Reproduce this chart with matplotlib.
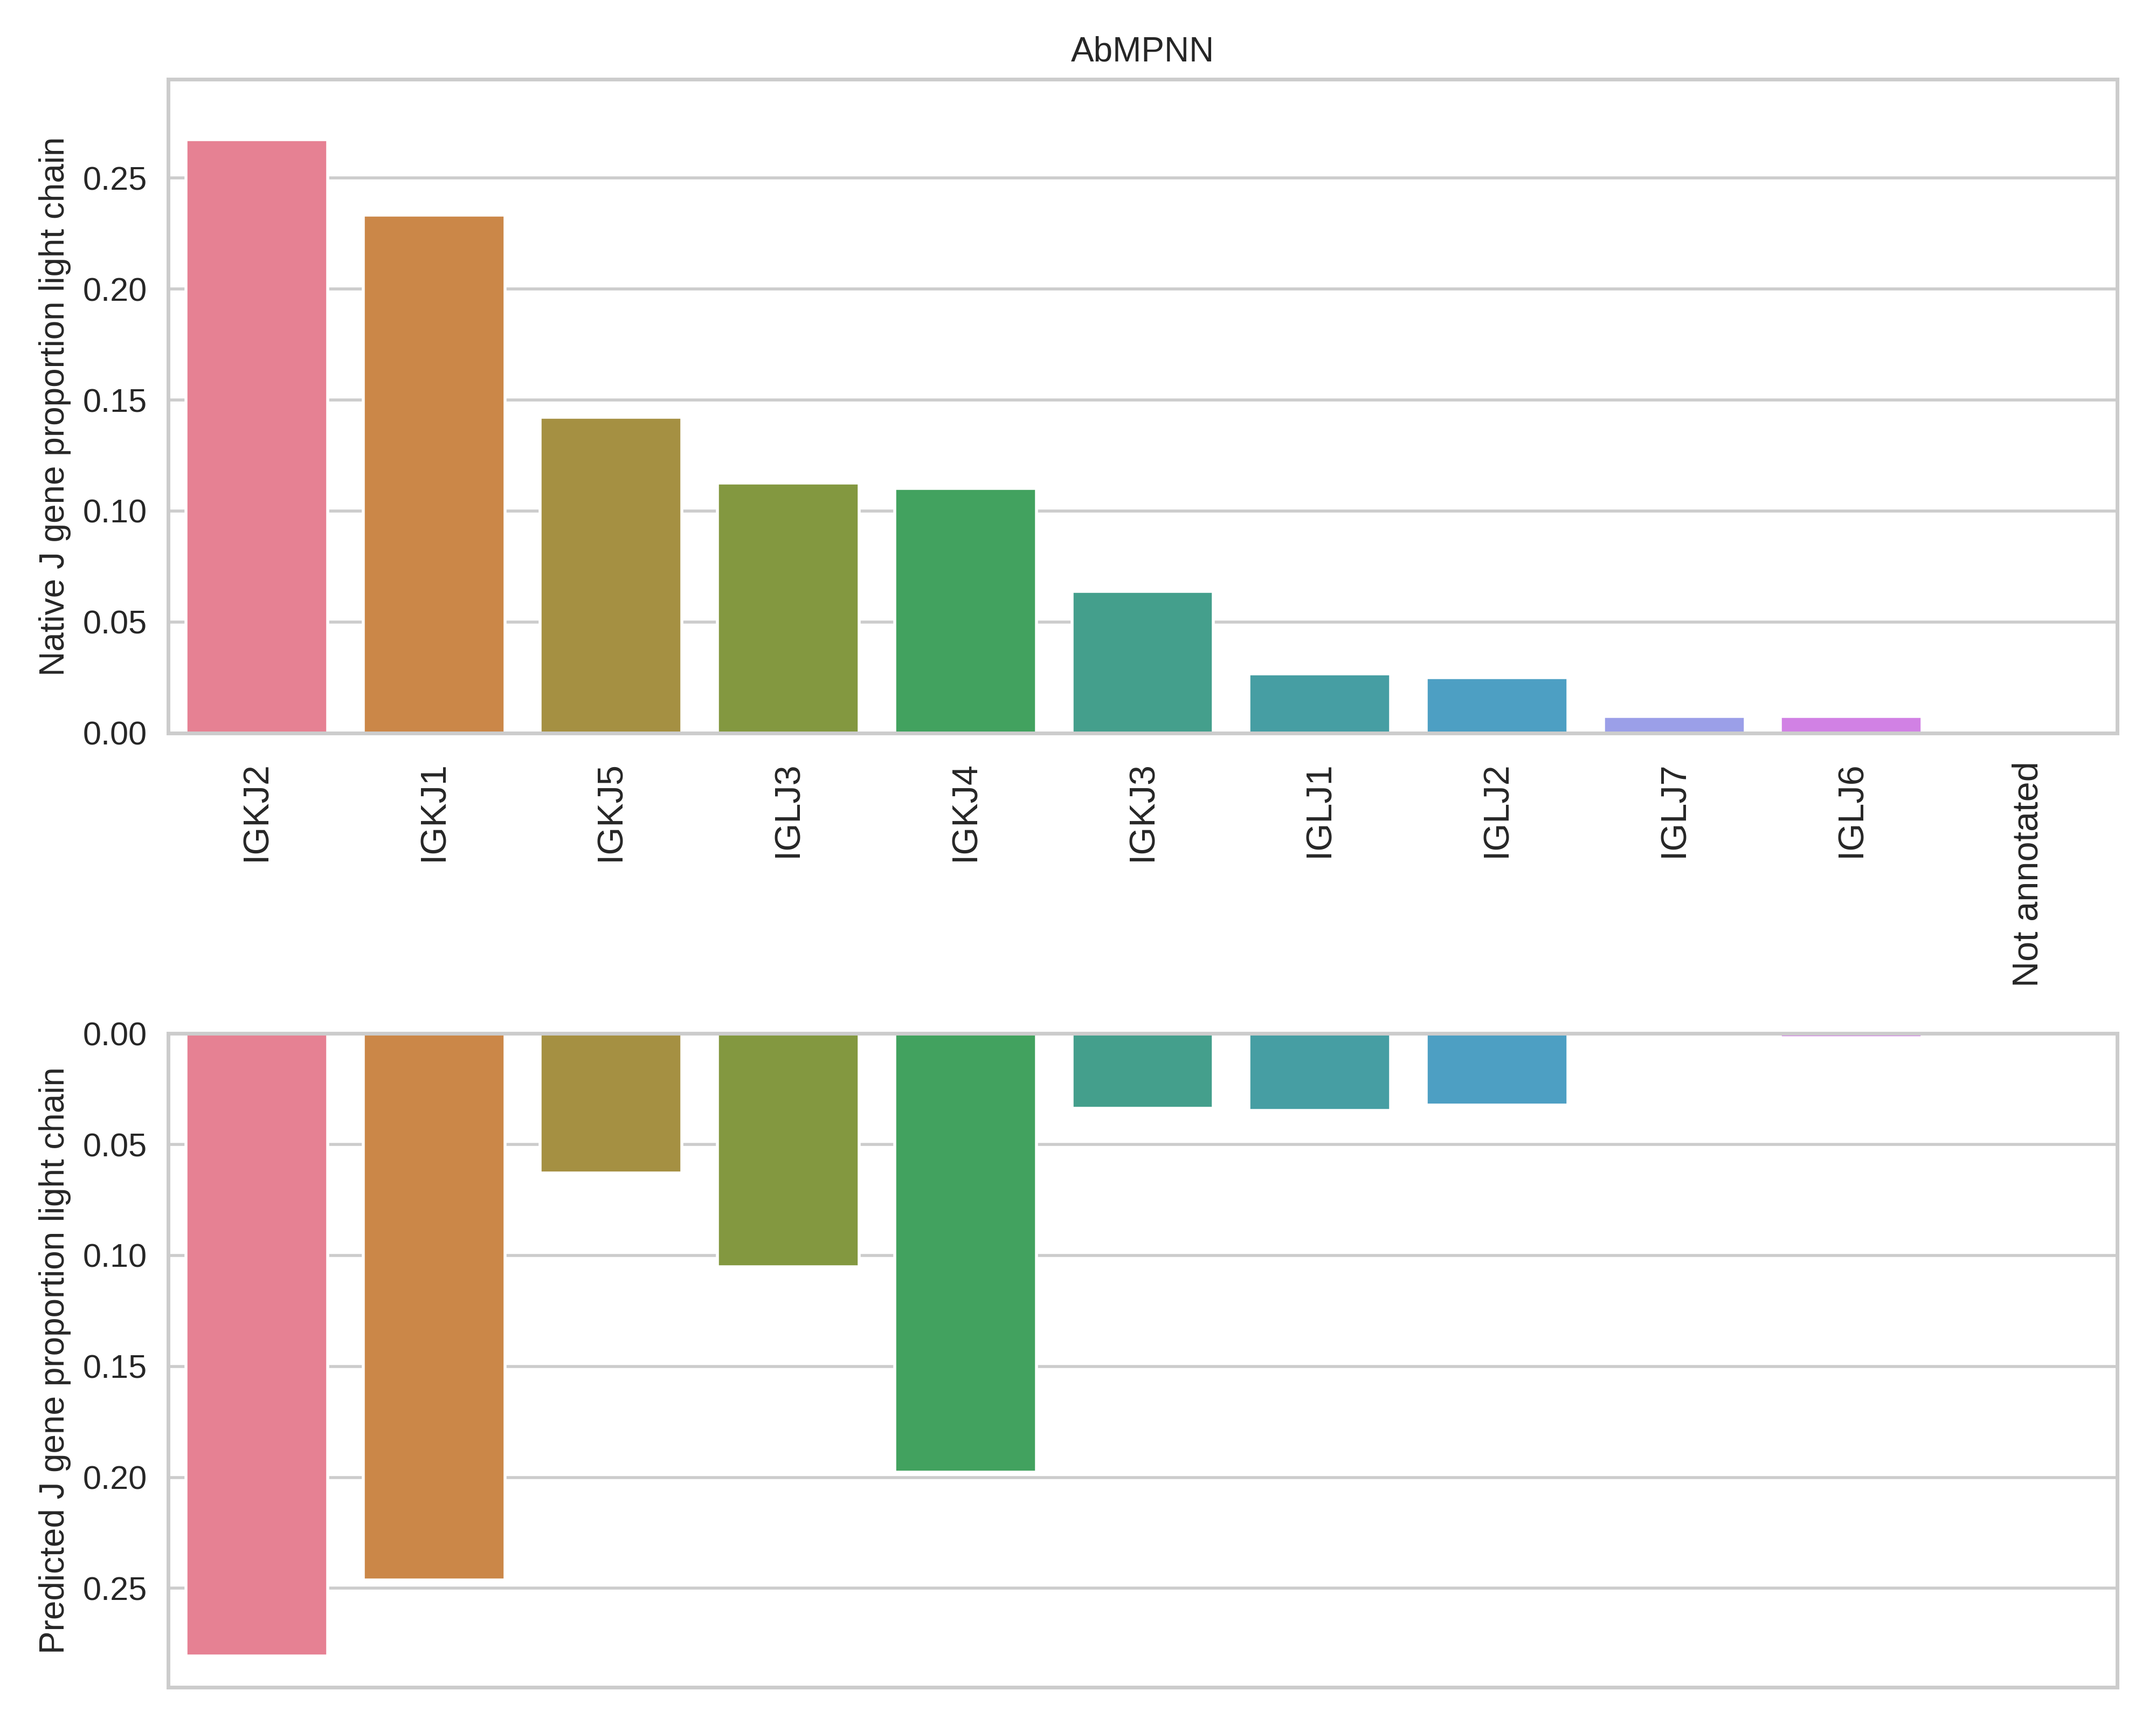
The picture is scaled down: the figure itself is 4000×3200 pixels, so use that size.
import matplotlib

matplotlib.use("Agg")
import matplotlib.pyplot as plt
import numpy as np
import seaborn as sns

# %% DATA
genes = [
    "IGKJ2",
    "IGKJ1",
    "IGKJ5",
    "IGLJ3",
    "IGKJ4",
    "IGKJ3",
    "IGLJ1",
    "IGLJ2",
    "IGLJ7",
    "IGLJ6",
    "Not annotated",
]
native = [0.2673, 0.2333, 0.1423, 0.1126, 0.1101, 0.0637, 0.0266, 0.0248, 0.0074, 0.0074, 0.0]
predicted = [0.2805, 0.2463, 0.0628, 0.1051, 0.1978, 0.0336, 0.0348, 0.0323, 0.0, 0.0019, 0.0]

# %% PLOT
sns.set_theme(style="whitegrid")
plt.rcParams["font.family"] = ["Liberation Sans", "DejaVu Sans"]
plt.rcParams["ytick.major.size"] = 3.5

fig, (ax_top, ax_bot) = plt.subplots(2, 1, figsize=(10, 8))
fig.subplots_adjust(left=0.078, right=0.982, top=0.954, bottom=0.022, hspace=0.46)

# Native proportions on top
sns.barplot(x=genes, y=native, hue=genes, palette="husl", legend=False, ax=ax_top)
ax_top.set_title("AbMPNN", fontsize=11.5)
ax_top.set_ylabel("Native J gene proportion light chain", fontsize=11.5)
ax_top.tick_params(axis="x", labelrotation=90, labelsize=12)

# Predicted proportions below, mirrored
sns.barplot(x=genes, y=predicted, hue=genes, palette="husl", legend=False, ax=ax_bot)
ax_bot.set_ylabel("Predicted J gene proportion light chain", fontsize=11.5)
ax_bot.set_xticks([])

# Same scale for both, bottom one flipped
ymax = 1.05 * max(max(native), max(predicted))
ax_top.set_ylim(0, ymax)
ax_bot.set_ylim(ymax, 0)

plt.savefig("out.png", dpi=400)
plt.close()
